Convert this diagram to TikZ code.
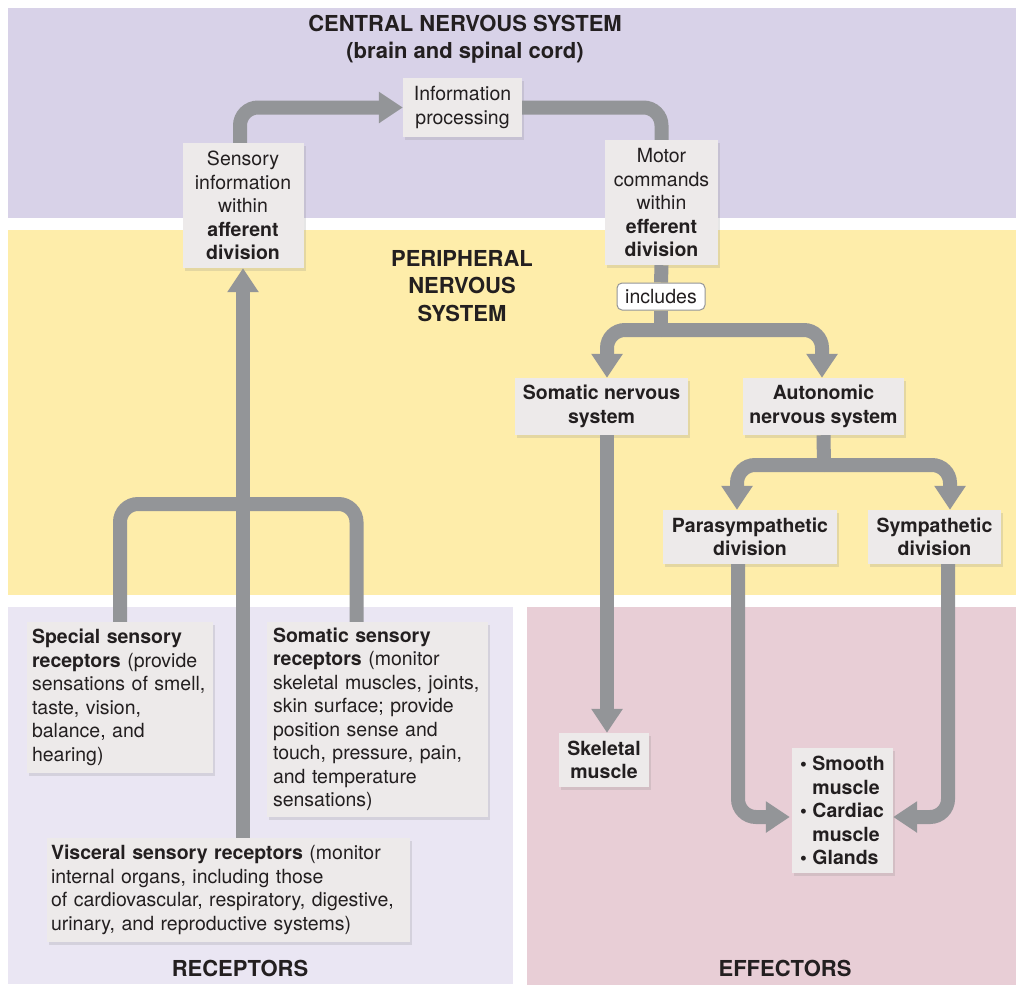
\documentclass[tikz,border=0pt]{standalone}
\usepackage{fontspec}
\setmainfont{TeX Gyre Heros}
\usetikzlibrary{arrows.meta,shadows}

\definecolor{cnsbg}{RGB}{216,210,232}
\definecolor{pnsbg}{RGB}{254,237,170}
\definecolor{recbg}{RGB}{234,230,243}
\definecolor{effbg}{RGB}{232,206,214}
\definecolor{boxgray}{RGB}{237,234,234}
\definecolor{flowgray}{RGB}{147,149,152}
\definecolor{inkgray}{RGB}{35,31,32}

\tikzset{
  txt/.style={font=\fontsize{19.5}{23.5}\selectfont, text=inkgray},
  head/.style={font=\fontsize{22}{27.5}\selectfont\bfseries, text=inkgray, align=center},
  infobox/.style={txt, fill=boxgray, inner sep=0pt, align=center,
    drop shadow={shadow xshift=2pt, shadow yshift=-3pt, opacity=.2}},
  leftbox/.style={infobox, align=left},
  tag/.style={txt, fill=white, draw=flowgray, line width=1pt, rounded corners=5pt,
    minimum width=88pt, minimum height=27pt, inner sep=0pt},
  line/.style={draw=flowgray, line width=14pt, rounded corners=18pt},
  flow/.style={line, -{Triangle[width=30pt,length=24pt]}},
}

\begin{document}
\begin{tikzpicture}[x=1pt, y=-1pt]
  \useasboundingbox (0,0) rectangle (1016,985);

  % Panels
  \fill[cnsbg] (8,8) rectangle (1016,218);
  \fill[pnsbg] (8,230) rectangle (1016,595);
  \fill[recbg] (8,607) rectangle (513,984);
  \fill[effbg] (527,607) rectangle (1016,985);

  % Panel titles
  \node[head] (cnstitle) at (465,39) {CENTRAL NERVOUS SYSTEM\\(brain and spinal cord)};
  \node[head] (pnstitle) at (462,286) {PERIPHERAL\\NERVOUS\\SYSTEM};
  \node[head] (rectitle) at (240,968) {RECEPTORS};
  \node[head] (efftitle) at (785,968) {EFFECTORS};

  % Boxes in the CNS
  \node[infobox, minimum width=119pt, minimum height=59pt] (info) at (462.5,107.5)
    {Information\\processing};
  \node[infobox, minimum width=121pt, minimum height=125pt] (sens) at (243,205.5)
    {Sensory\\information\\within\\\textbf{afferent}\\\textbf{division}};
  \node[infobox, minimum width=113pt, minimum height=125pt] (motor) at (661.5,202.5)
    {Motor\\commands\\within\\\textbf{efferent}\\\textbf{division}};

  % Efferent side
  \node[tag] (inc) at (661,296.5) {includes};
  \node[infobox, font=\fontsize{19.5}{23.5}\selectfont\bfseries, minimum width=173pt, minimum height=57pt] (soma) at (601.5,406.5)
    {Somatic nervous\\system};
  \node[infobox, font=\fontsize{19.5}{23.5}\selectfont\bfseries, minimum width=161pt, minimum height=57pt] (auto) at (823.5,406.5)
    {Autonomic\\nervous system};
  \node[infobox, font=\fontsize{19.5}{23.5}\selectfont\bfseries, minimum width=174pt, minimum height=54pt] (para) at (750,537)
    {Parasympathetic\\division};
  \node[infobox, font=\fontsize{19.5}{23.5}\selectfont\bfseries, minimum width=133pt, minimum height=54pt] (symp) at (934.5,537)
    {Sympathetic\\division};
  \node[infobox, font=\fontsize{19.5}{23.5}\selectfont\bfseries, minimum width=90pt, minimum height=54pt] (skel) at (604,760)
    {Skeletal\\muscle};
  \node[infobox, font=\fontsize{19.5}{23.5}\selectfont\bfseries, align=left, minimum width=101pt, minimum height=125pt] (organs) at (842.5,810.5)
    {\textbullet\ Smooth\\\phantom{\textbullet\ }muscle\\\textbullet\ Cardiac\\\phantom{\textbullet\ }muscle\\\textbullet\ Glands};

  % Receptors
  \node[leftbox, text width=176pt, inner xsep=5pt, minimum height=151pt] (spec) at (120,697.5)
    {\textbf{Special sensory}\\\textbf{receptors} (provide\\sensations of smell,\\taste, vision,\\balance, and\\hearing)};
  \node[leftbox, text width=209pt, inner xsep=6pt, minimum height=195pt] (ssr) at (377.5,719.5)
    {\textbf{Somatic sensory}\\\textbf{receptors} (monitor\\skeletal muscles, joints,\\skin surface; provide\\position sense and\\touch, pressure, pain,\\and temperature\\sensations)};
  \node[leftbox, text width=355pt, inner xsep=4pt, minimum height=104pt] (visc) at (228.5,890)
    {\textbf{Visceral sensory receptors} (monitor\\internal organs, including those\\of cardiovascular, respiratory, digestive,\\urinary, and reproductive systems)};

  % Afferent flow
  \draw[line] (spec.north) |- (sens.south |- 0,504) -| ([xshift=-21pt]ssr.north);
  \draw[flow] (sens.south |- visc.north) -- (sens.south);
  \draw[flow] ([xshift=-3pt]sens.north) |- (info.west);

  % Efferent flow
  \draw[line] (info.east) -| (motor.north);
  \draw[line, rounded corners=0pt] (motor.south) -- (inc.north);
  \coordinate (fork1) at (661,330);
  \draw[line, rounded corners=0pt] (inc.south) -- (fork1);
  \draw[flow] (fork1) -| ([xshift=5.5pt]soma.north);
  \draw[flow] (fork1) -| ([xshift=-1.5pt]auto.north);
  \coordinate (fork2) at (824,465);
  \draw[line, rounded corners=0pt] (auto.south) -- (fork2);
  \draw[flow] (fork2) -| ([xshift=-13pt]para.north);
  \draw[flow] (fork2) -| ([xshift=15.5pt]symp.north);
  \draw[flow] ([xshift=5.5pt]soma.south) -- ([xshift=5.5pt]soma.south |- skel.north);
  \draw[flow] ([xshift=-12pt]para.south) |- ([yshift=-6.5pt,xshift=-2pt]organs.west);
  \draw[flow] ([xshift=13.5pt]symp.south) |- ([yshift=-6.5pt]organs.east);
\end{tikzpicture}
\end{document}
